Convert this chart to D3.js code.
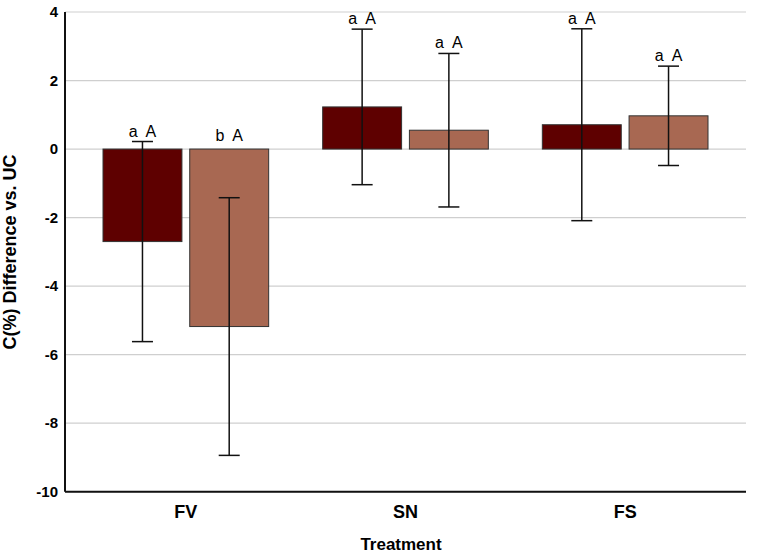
<!DOCTYPE html>
<html>
<head>
<meta charset="utf-8">
<script src="https://cdn.jsdelivr.net/npm/d3@7"></script>
<style>
  body { margin: 0; background: #fff; }
  text { font-family: "Liberation Sans", Arial, sans-serif; }
</style>
</head>
<body>
<div id="chart"></div>
<script>
// data
var categories = ['FV', 'SN', 'FS'];
var series = ['s1', 's2'];
var means1 = [-2.70, 1.23, 0.71];
var means2 = [-5.18, 0.55, 0.97];
var err1 = [2.92, 2.27, 2.80];
var err2 = [3.76, 2.24, 1.45];
var letters1 = ['a  A', 'a  A', 'a  A'];
var letters2 = ['b  A', 'a  A', 'a  A'];
var yTicks = [4, 2, 0, -2, -4, -6, -8, -10];

var colors = ['#5e0000', '#a86852'];

var width = 765, height = 555;
var svg = d3.select('#chart').append('svg')
    .attr('width', width)
    .attr('height', height);

// plot area
var pLeft = 65, pRight = 746, pTop = 12, pBottom = 491.7;

var y = d3.scaleLinear()
    .domain([-10, 4])
    .range([pBottom, pTop]);

var x0 = d3.scaleBand()
    .domain(categories)
    .range([76, 735]);

var x1 = d3.scaleBand()
    .domain(series)
    .range([27, x0.bandwidth() - 27])
    .paddingInner(0.09);

// grid lines
svg.append('g').selectAll('line')
    .data(yTicks)
    .enter().append('line')
    .attr('x1', pLeft)
    .attr('x2', pRight)
    .attr('y1', function (d) { return y(d); })
    .attr('y2', function (d) { return y(d); })
    .style('stroke', '#cfcfcf')
    .style('stroke-width', 1.2);

// y tick labels
svg.append('g').selectAll('text')
    .data(yTicks)
    .enter().append('text')
    .attr('x', 58)
    .attr('y', function (d) { return y(d); })
    .attr('dy', '0.35em')
    .attr('text-anchor', 'end')
    .style('font-size', '15px')
    .style('font-weight', 'bold')
    .text(function (d) { return d; });

// build rows
var rows = [];
categories.forEach(function (c, i) {
    rows.push({cat: c, s: 's1', v: means1[i], e: err1[i], lab: letters1[i], col: colors[0]});
    rows.push({cat: c, s: 's2', v: means2[i], e: err2[i], lab: letters2[i], col: colors[1]});
});

function cx(d) { return x0(d.cat) + x1(d.s) + x1.bandwidth() / 2; }

// bars
svg.append('g').selectAll('rect')
    .data(rows)
    .enter().append('rect')
    .attr('x', function (d) { return x0(d.cat) + x1(d.s); })
    .attr('y', function (d) { return y(Math.max(0, d.v)); })
    .attr('width', x1.bandwidth())
    .attr('height', function (d) { return Math.abs(y(d.v) - y(0)); })
    .attr('fill', function (d) { return d.col; })
    .style('stroke', '#333')
    .style('stroke-width', 1);

// error bars
var eg = svg.append('g').selectAll('g')
    .data(rows)
    .enter().append('g');
eg.append('line')
    .attr('x1', cx).attr('x2', cx)
    .attr('y1', function (d) { return y(d.v + d.e); })
    .attr('y2', function (d) { return y(d.v - d.e); })
    .style('stroke', '#111').style('stroke-width', 1.5);
eg.append('line')
    .attr('x1', function (d) { return cx(d) - 10.5; })
    .attr('x2', function (d) { return cx(d) + 10.5; })
    .attr('y1', function (d) { return y(d.v + d.e); })
    .attr('y2', function (d) { return y(d.v + d.e); })
    .style('stroke', '#111').style('stroke-width', 1.5);
eg.append('line')
    .attr('x1', function (d) { return cx(d) - 10.5; })
    .attr('x2', function (d) { return cx(d) + 10.5; })
    .attr('y1', function (d) { return y(d.v - d.e); })
    .attr('y2', function (d) { return y(d.v - d.e); })
    .style('stroke', '#111').style('stroke-width', 1.5);

// significance letters
svg.append('g').selectAll('text')
    .data(rows)
    .enter().append('text')
    .attr('x', cx)
    .attr('y', function (d) { return Math.min(y(0) - 3, y(d.v + d.e)) - 5; })
    .attr('text-anchor', 'middle')
    .style('font-size', '16px')
    .style('white-space', 'pre')
    .attr('xml:space', 'preserve')
    .text(function (d) { return d.lab; });

// axes lines
svg.append('line')
    .attr('x1', pLeft).attr('x2', pLeft)
    .attr('y1', pTop).attr('y2', pBottom)
    .style('stroke', '#111').style('stroke-width', 2);
svg.append('line')
    .attr('x1', pLeft).attr('x2', pRight)
    .attr('y1', pBottom).attr('y2', pBottom)
    .style('stroke', '#111').style('stroke-width', 2);

// category labels
svg.append('g').selectAll('text')
    .data(categories)
    .enter().append('text')
    .attr('x', function (d) { return x0(d) + x0.bandwidth() / 2; })
    .attr('y', 518)
    .attr('text-anchor', 'middle')
    .style('font-size', '18px')
    .style('font-weight', 'bold')
    .text(function (d) { return d; });

// axis titles
svg.append('text')
    .attr('x', 401)
    .attr('y', 550)
    .attr('text-anchor', 'middle')
    .style('font-size', '17px')
    .style('font-weight', 'bold')
    .text('Treatment');

svg.append('text')
    .attr('transform', 'translate(16,252) rotate(-90)')
    .attr('text-anchor', 'middle')
    .style('font-size', '18px')
    .style('font-weight', 'bold')
    .text('C(%) Difference vs. UC');
</script>
</body>
</html>
